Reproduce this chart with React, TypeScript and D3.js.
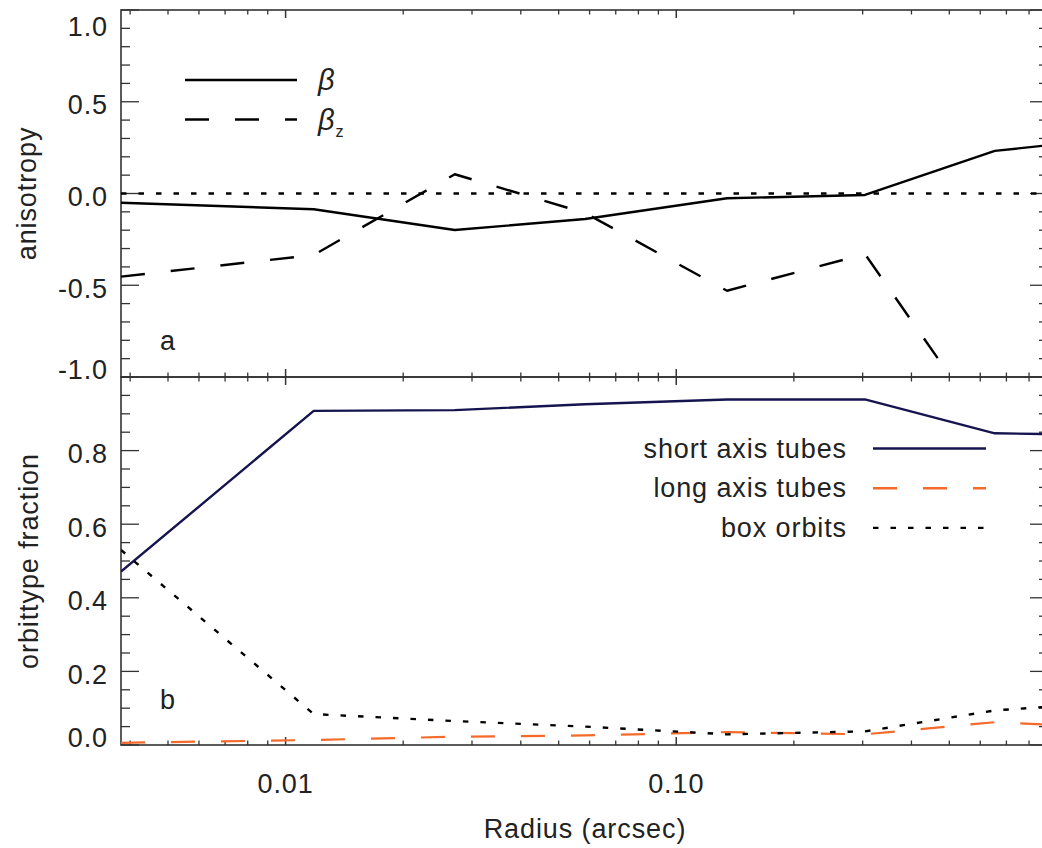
import * as d3 from 'd3';
import { useEffect, useRef } from 'react';

// radius of each model shell (arcsec)
const radius = [0.00379, 0.0118, 0.0271, 0.0584, 0.1349, 0.3041, 0.6537, 0.8945];

// panel a: anisotropy
const beta = [-0.05, -0.086, -0.199, -0.139, -0.026, -0.008, 0.232, 0.263];
const betaZ = [-0.453, -0.335, 0.105, -0.106, -0.53, -0.33, -1.343, null];

// panel b: orbit type fractions
const shortAxisTubes = [0.471, 0.908, 0.91, 0.926, 0.939, 0.939, 0.847, 0.845];
const longAxisTubes = [0.006, 0.0136, 0.0226, 0.026, 0.035, 0.029, 0.062, 0.055];
const boxOrbits = [0.53, 0.084, 0.065, 0.05, 0.029, 0.037, 0.094, 0.104];

const xMajorTicks = [0.01, 0.1];
const xMajorLabels = ['0.01', '0.10'];
const anisoTicks = [-1, -0.5, 0, 0.5, 1];
const anisoLabels = ['-1.0', '-0.5', '0.0', '0.5', '1.0'];
const fracTicks = [0, 0.2, 0.4, 0.6, 0.8];
const fracLabels = ['0.0', '0.2', '0.4', '0.6', '0.8'];

const WIDTH = 1042;
const HEIGHT = 848;
const FONT = '"Liberation Sans", Arial, Helvetica, sans-serif';
const TEXT = '#222';
const AXIS = '#333';
const NAVY = '#16144f';
const ORANGE = '#f5692a';
const SPACING = '0.9px';

export default function App() {
  const ref = useRef<SVGSVGElement>(null);

  useEffect(() => {
    const svg = d3.select(ref.current);
    svg.selectAll('*').remove();

    const left = 121;
    const right = 1048;
    const top = 10;
    const mid = 377;
    const bottom = 745;

    const x = d3.scaleLog().domain([radius[0], radius[radius.length - 1]]).range([left, right]);
    const yA = d3.scaleLinear().domain([-1, 1]).range([mid, top]);
    const yB = d3.scaleLinear().domain([0, 1]).range([bottom, mid]);

    const addText = (sel: any, size = 27) => sel
      .style('font-family', FONT)
      .style('font-size', `${size}px`)
      .style('letter-spacing', SPACING)
      .style('fill', TEXT);

    const defs = svg.append('defs');
    [['clip-a', top, mid], ['clip-b', mid, bottom]].forEach(([id, y0, y1]) => {
      defs.append('clipPath').attr('id', id as string)
        .append('rect')
        .attr('x', left).attr('y', y0 as number)
        .attr('width', right - left).attr('height', (y1 as number) - (y0 as number));
    });

    // minor x ticks: 2..9 in each decade
    const xMinor: number[] = [];
    [0.001, 0.01, 0.1].forEach((d) => {
      for (let k = 2; k <= 9; k += 1) {
        const v = k * d;
        if (v >= x.domain()[0] && v <= x.domain()[1]) xMinor.push(v);
      }
    });

    const fsTick = 27;

    const drawPanel = (y: d3.ScaleLinear<number, number>, y0: number, y1: number,
      majors: number[], labels: string[], minorStep: number, showX: boolean) => {
      const g = svg.append('g');
      const [lo, hi] = y.domain();

      // x ticks on top and bottom edges
      xMinor.forEach((v) => {
        g.append('line').attr('x1', x(v)).attr('x2', x(v)).attr('y1', y1).attr('y2', y1 - 4.5)
          .attr('stroke', AXIS).attr('stroke-width', 1.3);
        g.append('line').attr('x1', x(v)).attr('x2', x(v)).attr('y1', y0).attr('y2', y0 + 4.5)
          .attr('stroke', AXIS).attr('stroke-width', 1.3);
      });
      xMajorTicks.forEach((v) => {
        g.append('line').attr('x1', x(v)).attr('x2', x(v)).attr('y1', y1).attr('y2', y1 - 8)
          .attr('stroke', AXIS).attr('stroke-width', 1.5);
        g.append('line').attr('x1', x(v)).attr('x2', x(v)).attr('y1', y0).attr('y2', y0 + 8)
          .attr('stroke', AXIS).attr('stroke-width', 1.5);
      });

      // y minor ticks, both sides
      const nMinor = Math.round((hi - lo) / minorStep);
      for (let i = 0; i <= nMinor; i += 1) {
        const v = lo + i * minorStep;
        const isMajor = majors.some((m) => Math.abs(m - v) < 1e-6);
        const len = isMajor ? 18 : 9;
        g.append('line').attr('x1', left).attr('x2', left + len).attr('y1', y(v)).attr('y2', y(v))
          .attr('stroke', AXIS).attr('stroke-width', 1.3);
        g.append('line').attr('x1', right).attr('x2', right - len).attr('y1', y(v)).attr('y2', y(v))
          .attr('stroke', AXIS).attr('stroke-width', 1.3);
      }

      // y tick labels, kept inside the panel at its ends
      majors.forEach((v, i) => {
        const c = Math.min(Math.max(y(v) + 3, y0 + 17), y1 - 7);
        addText(g.append('text')
          .attr('x', 108).attr('y', c + fsTick * 0.35)
          .attr('text-anchor', 'end'), fsTick)
          .text(labels[i]);
      });

      if (showX) {
        xMajorTicks.forEach((v, i) => {
          addText(g.append('text')
            .attr('x', x(v)).attr('y', 793)
            .attr('text-anchor', 'middle'), fsTick)
            .text(xMajorLabels[i]);
        });
      }

      g.append('rect').attr('x', left).attr('y', y0).attr('width', right - left).attr('height', y1 - y0)
        .attr('fill', 'none').attr('stroke', AXIS).attr('stroke-width', 1.6);
    };

    drawPanel(yA, top, mid, anisoTicks, anisoLabels, 0.1, false);
    drawPanel(yB, mid, bottom, fracTicks, fracLabels, 0.05, true);

    const drawSeries = (values: (number | null)[], y: d3.ScaleLinear<number, number>, clip: string,
      color: string, width: number, dash: string | null) => {
      const line = d3.line<number | null>()
        .defined((v) => v !== null)
        .x((_, i) => x(radius[i]))
        .y((v) => y(v as number));
      const p = svg.append('path')
        .attr('d', line(values))
        .attr('clip-path', `url(#${clip})`)
        .attr('fill', 'none')
        .attr('stroke', color)
        .attr('stroke-width', width)
        .attr('stroke-linejoin', 'round');
      if (dash) p.attr('stroke-dasharray', dash);
    };

    // panel a
    const zeroLine = radius.map(() => 0);
    drawSeries(zeroLine, yA, 'clip-a', '#000', 2.4, '5.5,12');
    drawSeries(beta, yA, 'clip-a', '#000', 2.4, null);
    drawSeries(betaZ, yA, 'clip-a', '#000', 2.4, '24,26');

    // panel b
    drawSeries(shortAxisTubes, yB, 'clip-b', NAVY, 2.4, null);
    drawSeries(longAxisTubes, yB, 'clip-b', ORANGE, 2.2, '24,26');
    drawSeries(boxOrbits, yB, 'clip-b', '#000', 2.4, '5.5,12');

    // legend, panel a
    const legA = svg.append('g');
    legA.append('line').attr('x1', 185).attr('x2', 297).attr('y1', 80).attr('y2', 80)
      .attr('stroke', '#000').attr('stroke-width', 2.4);
    legA.append('line').attr('x1', 185).attr('x2', 297).attr('y1', 119.5).attr('y2', 119.5)
      .attr('stroke', '#000').attr('stroke-width', 2.4).attr('stroke-dasharray', '24,26');
    addText(legA.append('text').attr('x', 318).attr('y', 90), 29)
      .style('font-style', 'italic')
      .text('β');
    const bz = addText(legA.append('text').attr('x', 318).attr('y', 130), 29)
      .style('font-style', 'italic');
    bz.append('tspan').text('β');
    bz.append('tspan').attr('dy', 7).style('font-size', '16px').style('font-style', 'normal').text('z');

    // legend, panel b
    const legB = svg.append('g');
    const legRows: [string, string, string | null][] = [
      ['short axis tubes', NAVY, null],
      ['long axis tubes', ORANGE, '24,26'],
      ['box orbits', '#000', '5.5,12'],
    ];
    legRows.forEach(([label, color, dash], i) => {
      const ly = 448.5 + i * 39.7;
      addText(legB.append('text').attr('x', 847).attr('y', ly + 9).attr('text-anchor', 'end'))
        .text(label);
      const l = legB.append('line').attr('x1', 873).attr('x2', 986).attr('y1', ly).attr('y2', ly)
        .attr('stroke', color).attr('stroke-width', 2.4);
      if (dash) l.attr('stroke-dasharray', dash);
    });

    // panel letters
    [['a', 350], ['b', 709]].forEach(([t, yy]) => {
      addText(svg.append('text').attr('x', 160).attr('y', yy as number)).text(t as string);
    });

    // axis titles
    addText(svg.append('text')
      .attr('transform', `translate(36,${(top + mid) / 2}) rotate(-90)`)
      .attr('text-anchor', 'middle'))
      .text('anisotropy');
    addText(svg.append('text')
      .attr('transform', `translate(38,${(mid + bottom) / 2}) rotate(-90)`)
      .attr('text-anchor', 'middle'))
      .text('orbittype fraction');
    addText(svg.append('text')
      .attr('x', 585).attr('y', 838)
      .attr('text-anchor', 'middle'))
      .text('Radius (arcsec)');
  }, []);

  return (
    <svg
      ref={ref}
      width={WIDTH}
      height={HEIGHT}
      style={{ position: 'absolute', left: 0, top: 0, background: '#fff', overflow: 'hidden' }}
    />
  );
}
